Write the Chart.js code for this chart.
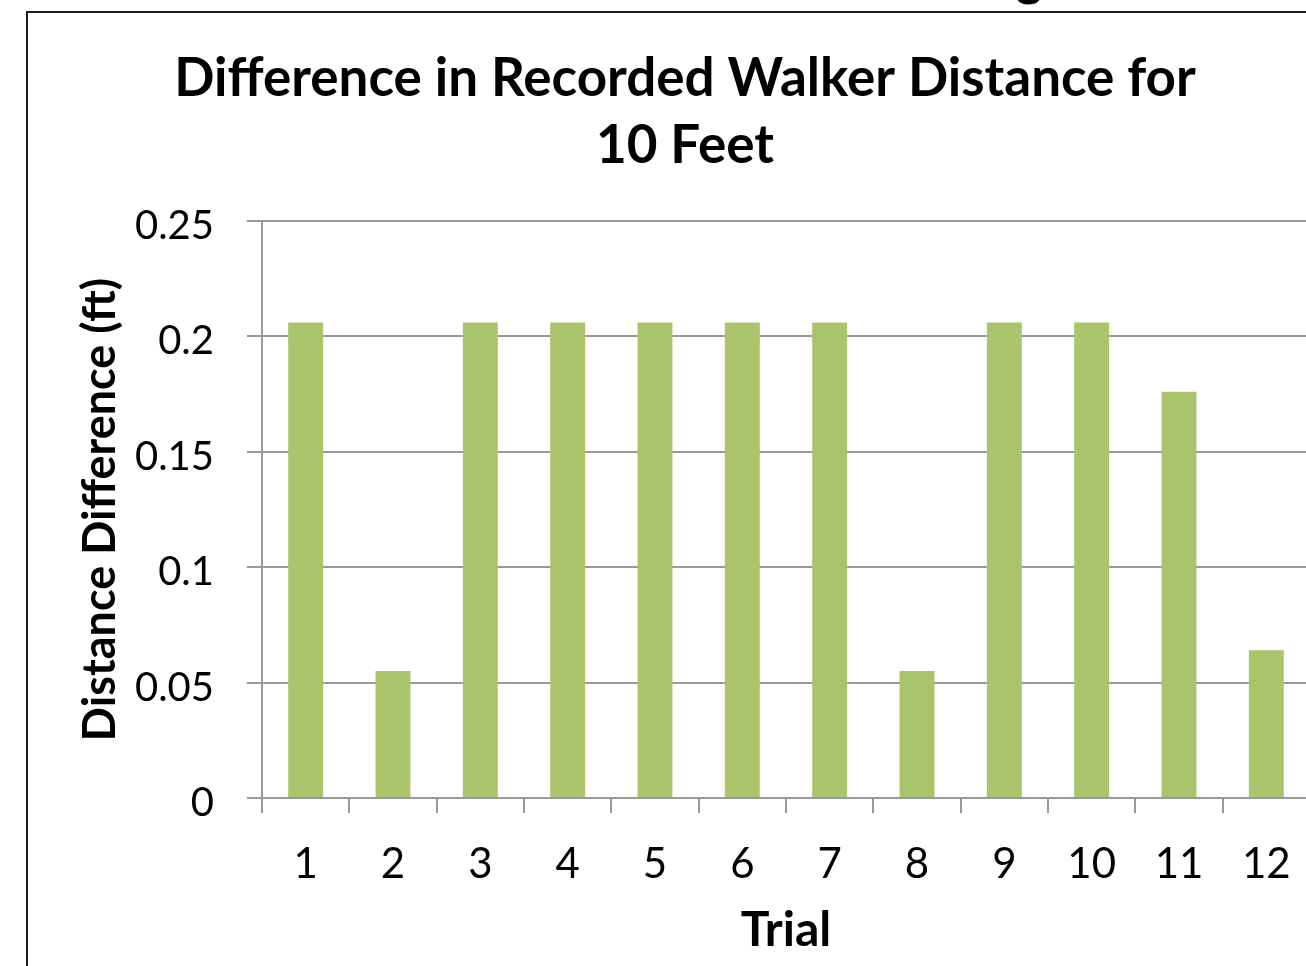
<!DOCTYPE html>
<html>
<head>
<meta charset="utf-8">
<script src="https://cdn.jsdelivr.net/npm/chart.js@4/dist/chart.umd.min.js"></script>
<style>
  html, body { margin: 0; padding: 0; background: #fff; overflow: hidden; }
  body { width: 1306px; height: 966px; position: relative; }
  #frame { position: absolute; left: 26px; top: 11px; width: 2000px; height: 2000px; border: 2px solid #1c1c1c; }
  #above { position: absolute; left: 1016px; top: -46px; font: bold 50px Lato, sans-serif; line-height: 47px; color: #000; }
  #wrap { position: absolute; left: 0; top: 0; width: 1370px; height: 966px; }
</style>
</head>
<body>
<div id="above">g</div>
<div id="frame"></div>
<div id="wrap"><canvas id="chart"></canvas></div>
<script>
const trials = ["1", "2", "3", "4", "5", "6", "7", "8", "9", "10", "11", "12"];
const distDiff = [0.206, 0.055, 0.206, 0.206, 0.206, 0.206, 0.206, 0.055, 0.206, 0.206, 0.176, 0.064];
const yTickLabels = ["0", "0.05", "0.1", "0.15", "0.2", "0.25"];

const gridGray = "#999999";
const font = "Lato, 'Open Sans', sans-serif";

new Chart(document.getElementById("chart"), {
  type: "bar",
  data: {
    labels: trials,
    datasets: [{
      data: distDiff,
      backgroundColor: "#aac46c",
      barPercentage: 0.4,
      categoryPercentage: 1
    }]
  },
  options: {
    responsive: true,
    maintainAspectRatio: false,
    animation: false,
    layout: { padding: { left: 60, right: 60, top: 0, bottom: 0 } },
    plugins: {
      legend: { display: false },
      tooltip: { enabled: false },
      title: {
        display: true,
        text: ["Difference in Recorded Walker Distance for", "10 Feet"],
        color: "#000",
        font: { family: font, size: 53, weight: "bold", lineHeight: 1.264 },
        padding: { top: 45, bottom: 42 }
      }
    },
    scales: {
      x: {
        afterFit: s => { s.height = 168; },
        grid: { offset: true, drawOnChartArea: false, drawTicks: true, tickLength: 15, color: gridGray, lineWidth: 2 },
        border: { display: true, color: gridGray, width: 2 },
        ticks: { color: "#000", padding: 26, font: { family: font, size: 42 } },
        title: {
          display: true, text: "Trial", color: "#000",
          font: { family: font, size: 48, weight: "bold" },
          padding: { top: 0, bottom: 7 }
        }
      },
      y: {
        min: 0,
        max: 0.25,
        afterFit: s => { s.width = 202; },
        ticks: {
          stepSize: 0.05,
          color: "#000",
          padding: 33,
          labelOffset: 5,
          font: { family: font, size: 40 },
          callback: (v, i) => yTickLabels[i]
        },
        grid: { color: gridGray, lineWidth: 2, tickLength: 15 },
        border: { display: true, color: gridGray, width: 2 },
        title: {
          display: true, text: "Distance Difference (ft)", color: "#000",
          font: { family: font, size: 45, weight: "bold" },
          padding: { top: 13, bottom: 0 }
        }
      }
    }
  }
});
</script>
</body>
</html>
